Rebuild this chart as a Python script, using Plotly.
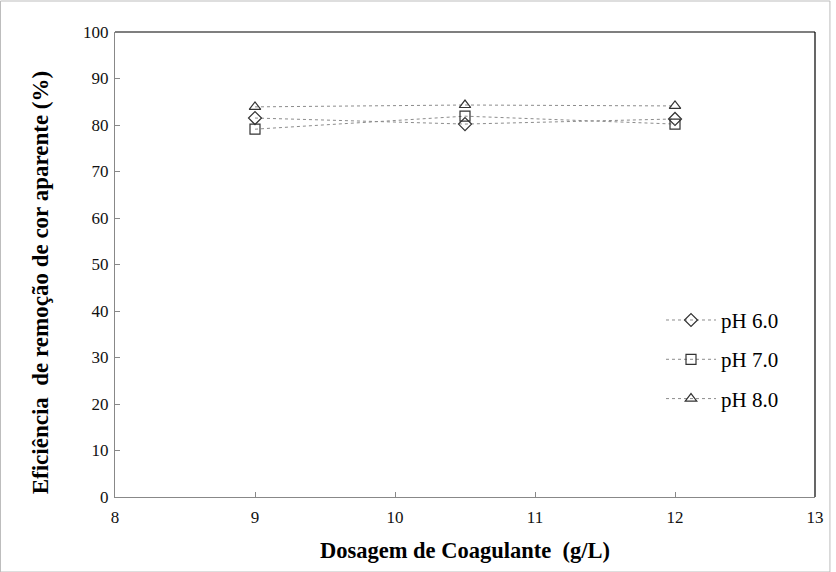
import plotly.graph_objects as go

dosagem = [9, 10.5, 12]
ph6 = [81.5, 80.2, 81.3]
ph7 = [79.1, 81.9, 80.2]
ph8 = [83.9, 84.3, 84.1]
series_names = ["pH 6.0", "pH 7.0", "pH 8.0"]
y_ticks = list(range(0, 101, 10))
x_ticks = [8, 9, 10, 11, 12, 13]

serif = "Liberation Serif, Times New Roman, serif"
symbols = ["diamond-open", "square-open", "triangle-up-open"]

fig = go.Figure()
for i, (name, vals, sym) in enumerate(zip(series_names, [ph6, ph7, ph8], symbols)):
    fig.add_trace(go.Scatter(
        x=dosagem, y=vals, name=name, mode="lines+markers",
        legendgroup=f"g{i}",
        line=dict(color="#8c8c8c", width=1, dash="dot"),
        marker=dict(symbol=sym, size=10, color="#333333",
                    line=dict(color="#333333", width=1.2)),
    ))

fig.update_layout(
    width=836, height=572,
    margin=dict(l=115, r=18, t=32, b=75),
    paper_bgcolor="white", plot_bgcolor="white",
    font=dict(family=serif, color="black", size=17),
    showlegend=True,
    legend=dict(x=0.78, y=0.424, xanchor="left", yanchor="top",
                bgcolor="rgba(0,0,0,0)", font=dict(size=21, family=serif),
                traceorder="grouped", tracegroupgap=9, itemwidth=50),
    xaxis=dict(range=[8, 13], tickvals=x_ticks, ticks="inside", ticklen=5,
               tickcolor="#888888", showline=True, linecolor="#888888",
               linewidth=1, mirror=False, showgrid=False, zeroline=False,
               ticklabelstandoff=5,
               title=dict(text="<b>Dosagem de Coagulante  (g/L)</b>",
                          font=dict(size=22.5, family=serif), standoff=15),
               tickfont=dict(size=17, family=serif, color="#111111")),
    yaxis=dict(range=[0, 100], tickvals=y_ticks, ticks="inside", ticklen=5,
               tickcolor="#888888", showline=True, linecolor="#888888",
               linewidth=1, showgrid=False, zeroline=False,
               ticklabelstandoff=2,
               tickfont=dict(size=17, family=serif, color="#111111")),
    shapes=[
        # dark top and right frame of the plot area
        dict(type="line", xref="paper", yref="paper", x0=0, x1=1, y0=1, y1=1,
             line=dict(color="black", width=1.2)),
        dict(type="line", xref="paper", yref="paper", x0=1, x1=1, y0=0, y1=1,
             line=dict(color="black", width=1.2)),
    ],
)

# y-axis title, placed slightly below the axis midpoint
fig.add_annotation(
    text="<b>Eficiência  de remoção de cor aparente (%)</b>",
    xref="paper", yref="paper", x=-75/703, y=214/465,
    xanchor="center", yanchor="middle", textangle=-90, showarrow=False,
    font=dict(size=23, family=serif, color="black"),
)

# light border around the whole chart
fig.add_shape(type="rect", xref="paper", yref="paper",
              x0=-115/703, x1=1 + 15/703, y0=-75/465, y1=1 + 31/465,
              line=dict(color="#bdbdbd", width=1))

fig.write_html("out.html")
